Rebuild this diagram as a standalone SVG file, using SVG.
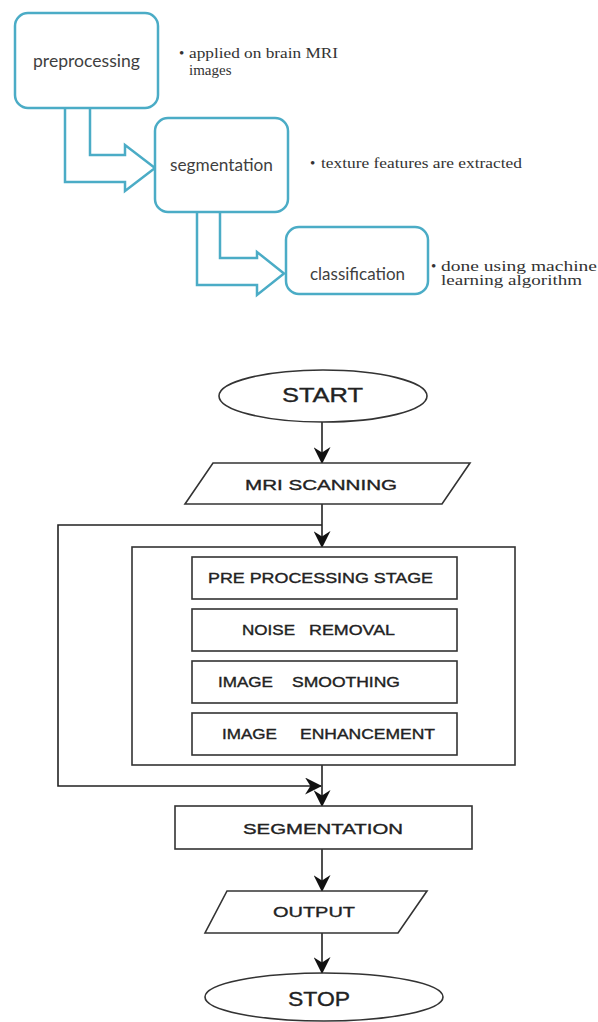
<svg xmlns="http://www.w3.org/2000/svg" width="598" height="1022" viewBox="0 0 598 1022">
  <style>
    .bg { fill: #ffffff; }
    .tbox { fill: #ffffff; stroke: #4bacc6; stroke-width: 2.5; }
    .barrow { fill: #ffffff; stroke: #4bacc6; stroke-width: 2.5; stroke-linejoin: miter; }
    .tlabel { font-family: Lato, "Open Sans", "Liberation Sans", sans-serif; font-size: 17px; fill: #3f3f3f; }
    .bullet { font-family: "Liberation Serif", serif; font-size: 15px; fill: #333333; }
    .shape { fill: #ffffff; stroke: #333333; stroke-width: 1.6; }
    .flabel { font-family: "Liberation Sans", Arial, sans-serif; fill: #222222; stroke: #222222; stroke-width: 0.35; }
    .conn { fill: none; stroke: #222222; stroke-width: 1.6; }
  </style>
  <defs>
    <marker id="ah" markerUnits="userSpaceOnUse" markerWidth="17" markerHeight="17" viewBox="0 0 16 16" refX="15" refY="8" orient="auto">
      <path d="M0,0 L16,8 L0,16 L5,8 Z" fill="#111111"/>
    </marker>
  </defs>
  <rect class="bg" x="0" y="0" width="598" height="1022"/>

  <!-- Top block diagram -->
  <g id="connectors-top">
    <path class="barrow" d="M90,108 L90,155 L125,155 L125,145 L155,168 L125,191 L125,182 L65,182 L65,108"/>
    <path class="barrow" d="M220,212 L220,258 L257,258 L257,252 L284,273.5 L257,295 L257,285 L197,285 L197,212"/>
  </g>
  <g id="node-preprocessing">
    <rect class="tbox" x="15" y="13" width="143" height="95" rx="13"/>
    <text class="tlabel" x="86.5" y="67" text-anchor="middle" textLength="107" lengthAdjust="spacingAndGlyphs">preprocessing</text>
  </g>
  <g id="note-preprocessing">
    <text class="bullet" x="179" y="58">•</text>
    <text class="bullet" x="189" y="58" textLength="149" lengthAdjust="spacingAndGlyphs">applied on brain MRI</text>
    <text class="bullet" x="189" y="75">images</text>
  </g>
  <g id="node-segmentation">
    <rect class="tbox" x="155" y="118" width="133" height="94" rx="13"/>
    <text class="tlabel" x="221.5" y="171" text-anchor="middle" textLength="103" lengthAdjust="spacingAndGlyphs">segmentation</text>
  </g>
  <g id="note-segmentation">
    <text class="bullet" x="310" y="168">•</text>
    <text class="bullet" x="321" y="168" textLength="201" lengthAdjust="spacingAndGlyphs">texture features are extracted</text>
  </g>
  <g id="node-classification">
    <rect class="tbox" x="286" y="227" width="142" height="67" rx="13"/>
    <text class="tlabel" x="357.5" y="280" text-anchor="middle" textLength="95" lengthAdjust="spacingAndGlyphs">classification</text>
  </g>
  <g id="note-classification">
    <text class="bullet" x="431" y="271">•</text>
    <text class="bullet" x="441" y="271" textLength="156" lengthAdjust="spacingAndGlyphs">done using machine</text>
    <text class="bullet" x="441" y="285" textLength="141" lengthAdjust="spacingAndGlyphs">learning algorithm</text>
  </g>

  <!-- Flowchart connectors -->
  <g id="connectors">
    <line class="conn" x1="322" y1="422" x2="322" y2="463" marker-end="url(#ah)"/>
    <line class="conn" x1="322" y1="504" x2="322" y2="547" marker-end="url(#ah)"/>
    <polyline class="conn" points="322,525 58,525 58,786 321,786" marker-end="url(#ah)"/>
    <line class="conn" x1="322" y1="765" x2="322" y2="806" marker-end="url(#ah)"/>
    <line class="conn" x1="322" y1="849" x2="322" y2="891" marker-end="url(#ah)"/>
    <line class="conn" x1="322" y1="933" x2="322" y2="973" marker-end="url(#ah)"/>
  </g>

  <g id="node-start">
    <ellipse class="shape" cx="323" cy="396" rx="104" ry="26"/>
    <text class="flabel" x="322.5" y="402" font-size="20" text-anchor="middle" textLength="81" lengthAdjust="spacingAndGlyphs">START</text>
  </g>
  <g id="node-mri">
    <polygon class="shape" points="213,463 470,463 442,504 185,504"/>
    <text class="flabel" x="245" y="490" font-size="15.5" textLength="152" lengthAdjust="spacingAndGlyphs">MRI SCANNING</text>
  </g>
  <g id="node-preprocessing-block">
    <rect class="shape" x="132" y="547" width="383" height="218"/>
  </g>
  <g id="node-pre-stage">
    <rect class="shape" x="192" y="557" width="265" height="42"/>
    <text class="flabel" x="208" y="583" font-size="14" textLength="225" lengthAdjust="spacingAndGlyphs">PRE PROCESSING STAGE</text>
  </g>
  <g id="node-noise">
    <rect class="shape" x="192" y="609" width="265" height="42"/>
    <text class="flabel" x="242" y="635" font-size="14" textLength="53" lengthAdjust="spacingAndGlyphs">NOISE</text>
    <text class="flabel" x="309" y="635" font-size="14" textLength="86" lengthAdjust="spacingAndGlyphs">REMOVAL</text>
  </g>
  <g id="node-smoothing">
    <rect class="shape" x="192" y="661" width="265" height="42"/>
    <text class="flabel" x="218" y="687" font-size="14" textLength="55" lengthAdjust="spacingAndGlyphs">IMAGE</text>
    <text class="flabel" x="292" y="687" font-size="14" textLength="108" lengthAdjust="spacingAndGlyphs">SMOOTHING</text>
  </g>
  <g id="node-enhancement">
    <rect class="shape" x="192" y="713" width="265" height="42"/>
    <text class="flabel" x="222" y="739" font-size="14" textLength="55" lengthAdjust="spacingAndGlyphs">IMAGE</text>
    <text class="flabel" x="300" y="739" font-size="14" textLength="135" lengthAdjust="spacingAndGlyphs">ENHANCEMENT</text>
  </g>
  <g id="node-segmentation-step">
    <rect class="shape" x="175" y="806" width="297" height="43"/>
    <text class="flabel" x="243" y="834" font-size="15" textLength="160" lengthAdjust="spacingAndGlyphs">SEGMENTATION</text>
  </g>
  <g id="node-output">
    <polygon class="shape" points="227,891 427,891 398,933 205,933"/>
    <text class="flabel" x="273" y="917" font-size="15" textLength="82" lengthAdjust="spacingAndGlyphs">OUTPUT</text>
  </g>
  <g id="node-stop">
    <ellipse class="shape" cx="324" cy="997" rx="119" ry="24"/>
    <text class="flabel" x="288" y="1006" font-size="20" textLength="62" lengthAdjust="spacingAndGlyphs">STOP</text>
  </g>
</svg>
